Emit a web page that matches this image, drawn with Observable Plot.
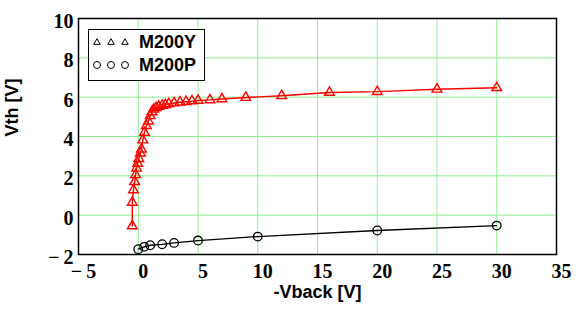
<!DOCTYPE html>
<html>
<head>
<meta charset="utf-8">
<script src="https://cdn.jsdelivr.net/npm/d3@7"></script>
<script src="https://cdn.jsdelivr.net/npm/@observablehq/plot@0.6"></script>
<style>
  html, body { margin: 0; padding: 0; background: #fff; }
  #wrap { position: relative; width: 581px; height: 333px; }
  #legend { position: absolute; left: 88px; top: 29px; width: 117px; height: 52px;
            border: 1.5px solid #000; background: #fff; box-sizing: border-box; }
</style>
</head>
<body>
<div id="wrap"><div id="legend"></div></div>
<script>
// M200Y series (triangles, red)
const vbackY = [-0.5, -0.5, -0.4, -0.3, -0.22, -0.14, -0.05, 0.05, 0.18, 0.27, 0.38, 0.52, 0.68, 0.86, 1.0, 1.15, 1.3, 1.5, 1.72, 2.0, 2.28, 2.56, 3.0, 3.5, 4.0, 4.5, 5.0, 6.0, 7.0, 9.0, 12, 16, 20, 25, 30];
const vthY   = [-0.55, 0.65, 1.28, 1.7, 2.05, 2.38, 2.63, 2.87, 3.15, 3.35, 3.82, 4.2, 4.55, 4.78, 5.05, 5.25, 5.38, 5.46, 5.53, 5.58, 5.62, 5.66, 5.7, 5.74, 5.77, 5.8, 5.83, 5.86, 5.91, 5.98, 6.07, 6.24, 6.28, 6.4, 6.48];
// M200P series (circles, black)
const vbackP = [0, 0.5, 1, 2, 3, 5, 10, 20, 30];
const vthP   = [-1.73, -1.61, -1.53, -1.48, -1.41, -1.29, -1.09, -0.78, -0.53];

const xTicks = [-5, 0, 5, 10, 15, 20, 25, 30, 35];
const yTicks = [-2, 0, 2, 4, 6, 8, 10];
const legendLabels = ["M200Y", "M200P"];
const xTitle = "-Vback [V]";
const yTitle = "Vth [V]";

const dataY = vbackY.map((x, i) => ({x, y: vthY[i]}));
const dataP = vbackP.map((x, i) => ({x, y: vthP[i]}));
const fmt = d => d < 0 ? "\u2212\u2009" + Math.abs(d) : String(d);
const serif = "'Liberation Serif', 'Times New Roman', serif";
const sans = "'Liberation Sans', Arial, sans-serif";

const chart = Plot.plot({
  width: 581,
  height: 333,
  marginLeft: 78,
  marginRight: 25,
  marginTop: 18,
  marginBottom: 79,
  style: {fontFamily: serif, fontWeight: "bold", fontSize: "20px", background: "#fff"},
  x: {domain: [-5, 35]},
  y: {domain: [-2, 10]},
  marks: [
    Plot.gridX(xTicks, {stroke: "#90ee90", strokeOpacity: 1, strokeWidth: 1}),
    Plot.gridY(yTicks, {stroke: "#90ee90", strokeOpacity: 1, strokeWidth: 1}),
    Plot.axisX(xTicks, {tickSize: 0, tickPadding: 9, dx: 5, tickFormat: fmt, label: null, fontSize: 20, fontFamily: serif, fontWeight: "bold", fill: "#000"}),
    Plot.axisY(yTicks, {tickSize: 0, tickPadding: 5, dy: 3, tickFormat: fmt, label: null, fontSize: 20, fontFamily: serif, fontWeight: "bold", fill: "#000"}),
    Plot.line(dataP, {x: "x", y: "y", stroke: "#000", strokeWidth: 1.3}),
    Plot.dot(dataP, {x: "x", y: "y", r: 4.3, stroke: "#000", strokeWidth: 1.3, fill: "none"}),
    Plot.line(dataY, {x: "x", y: "y", stroke: "#ff0000", strokeWidth: 1.4}),
    Plot.dot(dataY, {x: "x", y: "y", symbol: "triangle", r: 3.6, stroke: "#ff0000", strokeWidth: 1.4, fill: "none"}),
    Plot.frame({stroke: "#000", strokeWidth: 1.5}),
    Plot.text([xTitle], {frameAnchor: "bottom", lineAnchor: "middle", dy: 38, fontFamily: sans, fontWeight: "bold", fontSize: 18, fill: "#000"}),
    Plot.text([yTitle], {frameAnchor: "left", lineAnchor: "middle", dx: -66, rotate: -90, fontFamily: sans, fontWeight: "bold", fontSize: 18, fill: "#000"})
  ]
});
document.getElementById("wrap").prepend(chart);

// Legend overlay
const lg = d3.select("#legend").append("svg").attr("width", 114).attr("height", 49)
  .style("position", "absolute").style("left", "0px").style("top", "0px");
const symbols = [d3.symbolTriangle, d3.symbolCircle];
const sizes = [18, 38];
legendLabels.forEach((lab, i) => {
  const cy = 12 + i * 23;
  [8, 22, 36].forEach(cx => {
    lg.append("path").attr("d", d3.symbol(symbols[i], sizes[i])())
      .attr("transform", `translate(${cx},${cy + (i === 0 ? 0.5 : 0)})`)
      .attr("fill", "none").attr("stroke", "#000").attr("stroke-width", 1);
  });
  lg.append("text").attr("x", 50).attr("y", cy).attr("dy", "0.36em")
    .attr("font-family", sans).attr("font-weight", "bold")
    .attr("font-size", 18).attr("fill", "#000").text(lab);
});
</script>
</body>
</html>
